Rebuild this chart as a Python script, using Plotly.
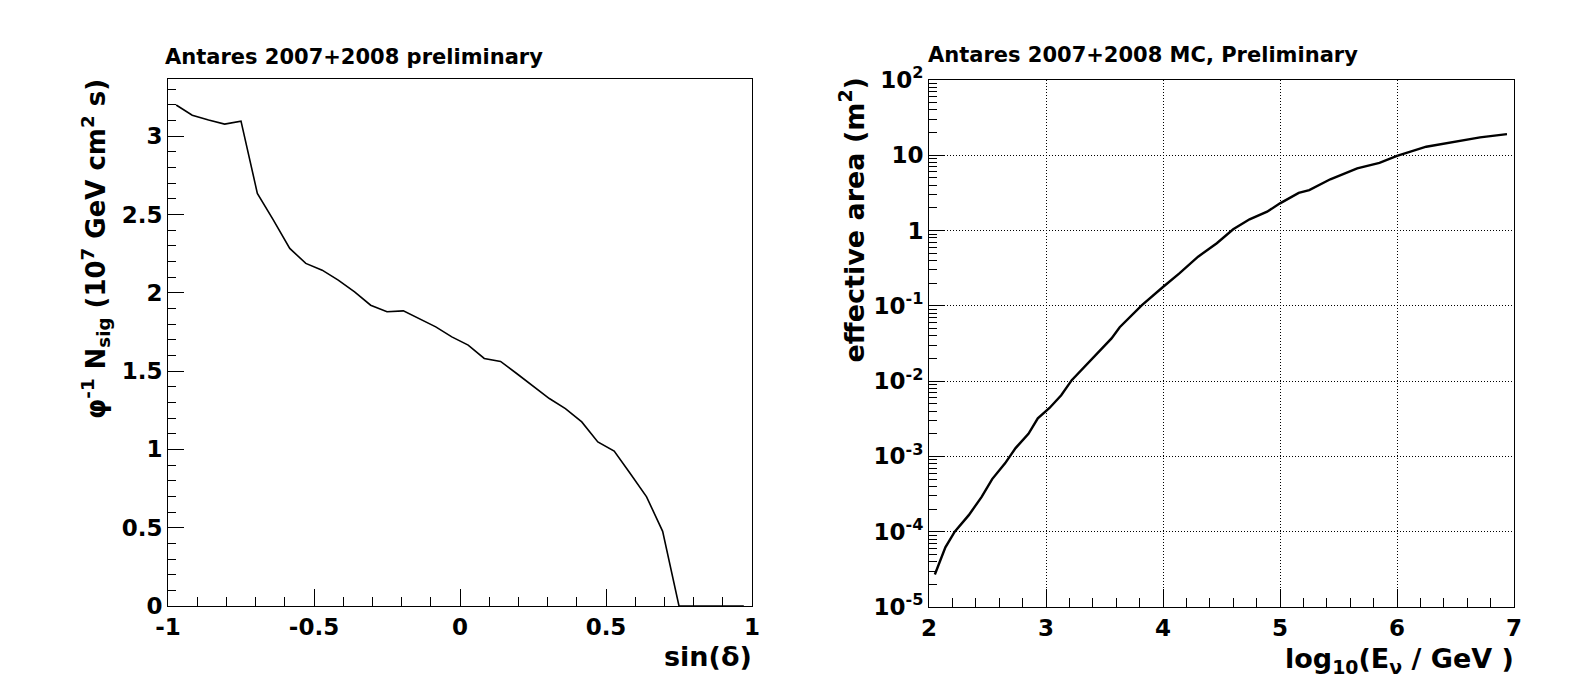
import plotly.graph_objects as go

# ---------------- data: left panel ----------------
sin_dec = [-0.972, -0.917, -0.861, -0.806, -0.750, -0.694, -0.639, -0.583, -0.528,
           -0.472, -0.417, -0.361, -0.306, -0.250, -0.194, -0.139, -0.083, -0.028,
           0.028, 0.083, 0.139, 0.194, 0.250, 0.306, 0.361, 0.417, 0.472, 0.528,
           0.583, 0.639, 0.694, 0.750, 0.806, 0.861, 0.917, 0.972]
nsig_per_flux = [3.200, 3.135, 3.104, 3.078, 3.097, 2.635, 2.465, 2.284, 2.188,
                 2.145, 2.081, 2.006, 1.921, 1.879, 1.885, 1.836, 1.783, 1.719,
                 1.666, 1.581, 1.562, 1.485, 1.404, 1.325, 1.261, 1.176, 1.048, 0.990,
                 0.846, 0.697, 0.477, 0.0, 0.0, 0.0, 0.0, 0.0]
left_xticks = [-1, -0.5, 0, 0.5, 1]
left_xtick_text = ["-1", "-0.5", "0", "0.5", "1"]
left_yticks = [0, 0.5, 1, 1.5, 2, 2.5, 3]
left_ytick_text = ["0", "0.5", "1", "1.5", "2", "2.5", "3"]

# ---------------- data: right panel ----------------
log_energy = [2.05, 2.14, 2.22, 2.34, 2.45, 2.54, 2.65, 2.74, 2.85, 2.93, 3.03, 3.13,
              3.22, 3.35, 3.46, 3.56, 3.63, 3.72, 3.82, 4.00, 4.14, 4.30, 4.46, 4.60,
              4.74, 4.89, 5.00, 5.16, 5.25, 5.43, 5.66, 5.85, 6.00, 6.25, 6.45, 6.71, 6.94]
eff_area = [2.7e-5, 6.2e-5, 1.0e-4, 1.66e-4, 2.9e-4, 5.0e-4, 8.1e-4, 1.29e-3, 2.0e-3,
            3.2e-3, 4.4e-3, 6.5e-3, 1.03e-2, 1.7e-2, 2.6e-2, 3.7e-2, 5.2e-2, 7.1e-2,
            0.102, 0.178, 0.27, 0.45, 0.68, 1.04, 1.41, 1.78, 2.3, 3.17, 3.45, 4.8,
            6.7, 7.95, 9.8, 13.0, 14.7, 17.3, 19.1]
right_xticks = [2, 3, 4, 5, 6, 7]
right_xtick_text = ["2", "3", "4", "5", "6", "7"]
right_yticks = [1e-5, 1e-4, 1e-3, 1e-2, 1e-1, 1, 10, 100]
right_ytick_text = ["10<sup>-5</sup>", "10<sup>-4</sup>", "10<sup>-3</sup>", "10<sup>-2</sup>",
                    "10<sup>-1</sup>", "1", "10", "10<sup>2</sup>"]

# page body has an 8px margin; the figure is sized to fit inside the window
OFF = 8
W, H = 1572 - OFF, 674 - OFF


def px_x(x):
    return (x - OFF) / W


def px_y(y):
    return (H - (y - OFF)) / H


FONT = "DejaVu Sans"
TICKFONT = dict(family=FONT, size=23, color="black", weight="bold")
TITLEFONT = dict(family=FONT, size=27, color="black", weight="bold")
YTITLEFONT = dict(family=FONT, size=26, color="black", weight="bold")
HEADFONT = dict(family=FONT, size=21, color="black", weight="bold")

fig = go.Figure()
fig.add_trace(go.Scatter(x=sin_dec, y=nsig_per_flux, mode="lines",
                         line=dict(color="black", width=1.6),
                         xaxis="x", yaxis="y", showlegend=False))
fig.add_trace(go.Scatter(x=log_energy, y=eff_area, mode="lines",
                         line=dict(color="black", width=2.4),
                         xaxis="x2", yaxis="y2", showlegend=False))

common = dict(showline=True, linecolor="black", linewidth=1, mirror=True,
              ticks="inside", tickcolor="black", tickwidth=1, zeroline=False,
              tickfont=TICKFONT, automargin=False)

GRIDDASH = "1px,2px"

fig.update_layout(
    template="none",
    width=W, height=H,
    margin=dict(l=0, r=0, t=0, b=0, pad=0),
    paper_bgcolor="white", plot_bgcolor="white",
    showlegend=False,
    xaxis=dict(domain=[px_x(168), px_x(752)], range=[-1, 1], anchor="y",
               tickmode="array", tickvals=left_xticks, ticktext=left_xtick_text,
               ticklen=17, showgrid=False,
               minor=dict(ticks="inside", ticklen=9, dtick=0.1, tick0=0,
                          tickcolor="black", showgrid=False),
               **common),
    yaxis=dict(domain=[px_y(606), px_y(79)], range=[0, 3.366], anchor="x",
               tickmode="array", tickvals=left_yticks, ticktext=left_ytick_text,
               ticklen=16, showgrid=False,
               minor=dict(ticks="inside", ticklen=8, dtick=0.1, tick0=0,
                          tickcolor="black", showgrid=False),
               **common),
    xaxis2=dict(domain=[px_x(929), px_x(1514)], range=[2, 7], anchor="y2",
                tickmode="array", tickvals=right_xticks, ticktext=right_xtick_text,
                ticklen=18, showgrid=True, gridcolor="black", griddash=GRIDDASH,
                gridwidth=1,
                minor=dict(ticks="inside", ticklen=9, dtick=0.2, tick0=2,
                           tickcolor="black", showgrid=False),
                **common),
    yaxis2=dict(domain=[px_y(607), px_y(80)], type="log", range=[-5, 2], anchor="x2",
                tickmode="array", tickvals=right_yticks, ticktext=right_ytick_text,
                ticklen=16, showgrid=True, gridcolor="black", griddash=GRIDDASH,
                gridwidth=1,
                minor=dict(ticks="inside", ticklen=8, dtick="D1",
                           tickcolor="black", showgrid=False),
                **common),
)

annotations = [
    dict(text="Antares 2007+2008 preliminary", x=px_x(163), y=px_y(57),
         xanchor="left", yanchor="middle", font=HEADFONT),
    dict(text="Antares 2007+2008 MC, Preliminary", x=px_x(926), y=px_y(55),
         xanchor="left", yanchor="middle", font=HEADFONT),
    dict(text="sin(δ)", x=px_x(754), y=px_y(656),
         xanchor="right", yanchor="middle", font=TITLEFONT),
    dict(text="log<sub>10</sub>(E<sub>ν</sub> / GeV )", x=px_x(1516), y=px_y(641),
         xanchor="right", yanchor="top", font=TITLEFONT),
    dict(text="φ<sup>-1</sup> N<sub>sig</sub> (10<sup>7</sup> GeV cm<sup>2</sup> s)",
         x=px_x(95), y=px_y(77), xanchor="center", yanchor="top",
         textangle=-90, font=YTITLEFONT),
    dict(text="effective area (m<sup>2</sup>)",
         x=px_x(852), y=px_y(75), xanchor="center", yanchor="top",
         textangle=-90, font=TITLEFONT),
]
for a in annotations:
    a.update(xref="paper", yref="paper", showarrow=False)
fig.update_layout(annotations=annotations)

fig.write_html("out.html")
